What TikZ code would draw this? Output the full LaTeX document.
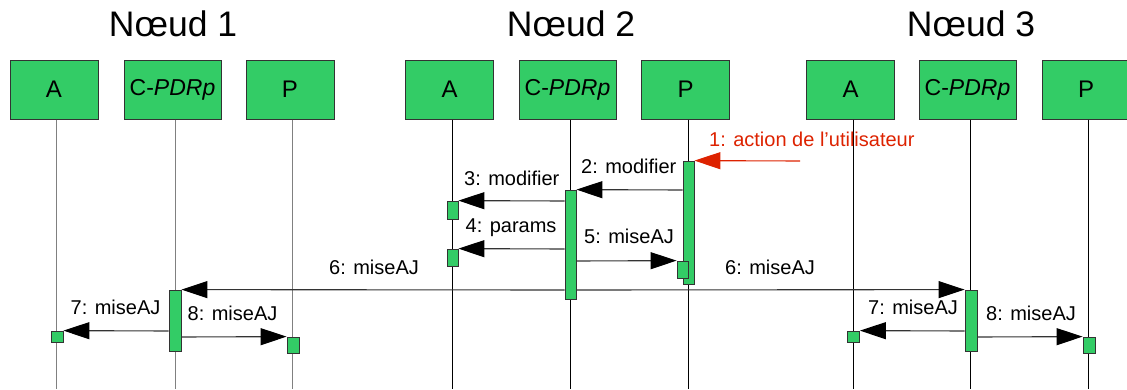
\documentclass[tikz,border=0pt]{standalone}
\usepackage{fontspec}
\setmainfont{Liberation Sans}
\usetikzlibrary{arrows.meta}
\definecolor{boxgreen}{RGB}{51,204,102}
\definecolor{edge}{RGB}{51,51,51}
\definecolor{msgred}{RGB}{221,34,0}
\begin{document}
\begin{tikzpicture}[x=1pt,y=-1pt,
  actor/.style={draw=edge,line width=1pt,fill=boxgreen,minimum width=88pt,minimum height=59pt,inner sep=0pt,font=\fontsize{24}{26}\selectfont},
  cactor/.style={actor,minimum width=97pt,font=\fontsize{23}{26}\selectfont},
  title/.style={anchor=base,font=\fontsize{35.5}{40}\selectfont},
  bar/.style={draw=edge,line width=0.8pt,fill=boxgreen,minimum width=11pt,inner sep=0pt},
  life/.style={line width=1pt,black},
  lifegray/.style={line width=1pt,gray},
  msg/.style={line width=1.1pt,edge,-{Triangle[length=26pt,width=17pt,color=black,fill=black]}},
  redmsg/.style={line width=1.1pt,msgred,-{Triangle[length=26pt,width=17pt]}},
  lbl/.style={anchor=base west,inner sep=0pt,font=\fontsize{20}{22}\selectfont}
]
\useasboundingbox (0,0) rectangle (1127,389);
% titles
\node[title] (t1) at (173,36) {Nœud 1};
\node[title] (t2) at (571,36) {Nœud 2};
\node[title] (t3) at (971,36) {Nœud 3};
% actor boxes
\node[actor]  (a1) at (54,89.5) {A};
\node[cactor] (c1) at (172.5,89.5) {C-\textit{PDRp}};
\node[actor]  (p1) at (290,89.5) {P};
\node[actor]  (a2) at (449.5,89.5) {A};
\node[cactor] (c2) at (567.5,89.5) {C-\textit{PDRp}};
\node[actor]  (p2) at (685.5,89.5) {P};
\node[actor]  (a3) at (850.5,89.5) {A};
\node[cactor] (c3) at (967.5,89.5) {C-\textit{PDRp}};
\node[actor]  (p3) at (1086,89.5) {P};
% lifelines
\foreach \n/\s in {a1/lifegray,c1/lifegray,p1/lifegray,a2/life,c2/life,p2/life,a3/life,c3/life,p3/life}{
  \draw[\s] ([xshift=2.6pt]\n.south) -- ([xshift=2.6pt]\n.south |- 0,389);
}
% activation bars
\node[bar,minimum height=123pt] (p2b) at (688.5,222.5) {};
\node[bar,minimum height=109pt] (c2b) at (570.5,244.5) {};
\node[bar,minimum height=18pt] (a2b1) at (452.5,210) {};
\node[bar,minimum height=17pt] (a2b2) at (452.5,257.5) {};
\node[bar,minimum height=17pt] (p2b2) at (682.5,269.5) {};
\node[bar,minimum width=12pt,minimum height=61pt] (c1b) at (175,320.5) {};
\node[bar,minimum width=12pt,minimum height=11pt] (a1b) at (57,336.5) {};
\node[bar,minimum width=12pt,minimum height=16pt] (p1b) at (293,345) {};
\node[bar,minimum width=12pt,minimum height=61pt] (c3b) at (971,320.5) {};
\node[bar,minimum width=12pt,minimum height=11pt] (a3b) at (853.5,336.5) {};
\node[bar,minimum width=12pt,minimum height=16pt] (p3b) at (1089,345) {};
% messages
\coordinate (u) at (800,161);
\draw[redmsg] (u) -- (p2b.north east);
\node[lbl,text=msgred] (l1) at (709,146.5) {1: action de l'utilisateur};
\draw[msg] (p2b.west |- 0,190) -- (c2b.north east);
\node[lbl] (l2) at (581,173) {2: modifier};
\draw[msg] (c2b.west |- 0,201) -- (a2b1.north east);
\node[lbl] (l3) at (464,185.5) {3: modifier};
\draw[msg] (c2b.west |- 0,249) -- (a2b2.north east);
\node[lbl] (l4) at (465.5,232.5) {4: params};
\draw[msg] (c2b.east |- 0,261) -- (p2b2.north west);
\node[lbl] (l5) at (584,243.5) {5: miseAJ};
\draw[msg] (c2b.west |- 0,290) -- (c1b.north east);
\node[lbl] (l6a) at (329,274) {6: miseAJ};
\draw[msg] (c2b.east |- 0,290) -- (c3b.north west);
\node[lbl] (l6b) at (725,274) {6: miseAJ};
\draw[msg] (c1b.west |- 0,331) -- (a1b.north east);
\node[lbl] (l7a) at (70.5,314) {7: miseAJ};
\draw[msg] (c1b.east |- 0,337) -- (p1b.north west);
\node[lbl] (l8a) at (187.5,320.5) {8: miseAJ};
\draw[msg] (c3b.west |- 0,331) -- (a3b.north east);
\node[lbl] (l7b) at (868,314) {7: miseAJ};
\draw[msg] (c3b.east |- 0,337) -- (p3b.north west);
\node[lbl] (l8b) at (986,320.5) {8: miseAJ};
\end{tikzpicture}
\end{document}
